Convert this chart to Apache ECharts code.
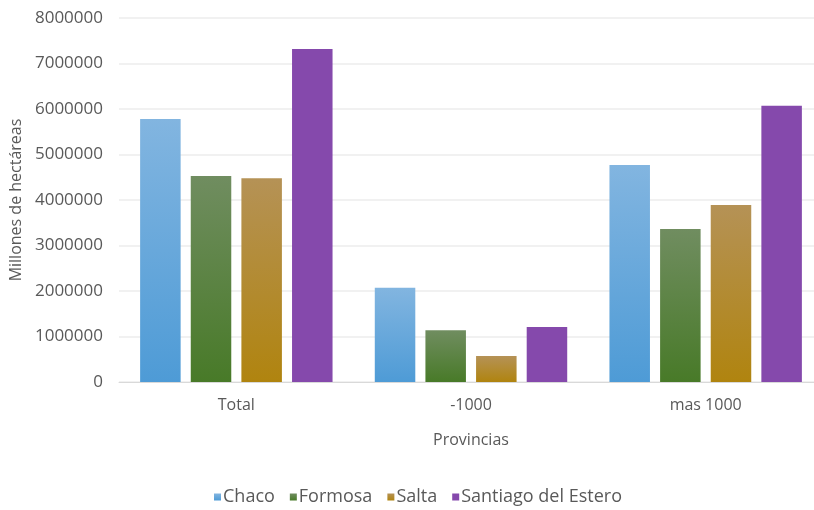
<!DOCTYPE html>
<html>
<head>
<meta charset="utf-8">
<script src="https://cdn.jsdelivr.net/npm/echarts@6/dist/echarts.min.js"></script>
<style>
html,body{margin:0;padding:0;background:#fff;}
#main{width:814px;height:510px;}
</style>
</head>
<body>
<div id="main"></div>
<script>
var categorias = ['Total', '-1000', 'mas 1000'];
var chaco = [5780000, 2070000, 4770000];
var formosa = [4530000, 1140000, 3360000];
var salta = [4480000, 570000, 3890000];
var santiago = [7320000, 1210000, 6070000];
var yTicks = [0, 1000000, 2000000, 3000000, 4000000, 5000000, 6000000, 7000000, 8000000];

// degradado vertical para cada serie
function grad(top, bottom){
    return new echarts.graphic.LinearGradient(0, 0, 0, 1, [
        {offset: 0, color: top},
        {offset: 1, color: bottom}
    ]);
}

var txt = '#595959';
var fuente = 'Open Sans';

var myChart = echarts.init(document.getElementById('main'));
var option = {
    animation: false,
    textStyle: {fontFamily: fuente},
    grid: {left: 119, right: -9, top: 18, bottom: 128, outerBoundsMode: 'none'},
    legend: {
        bottom: -1,
        left: 209,
        icon: 'rect',
        itemWidth: 7,
        itemHeight: 7,
        itemGap: 15,
        textStyle: {color: txt, fontSize: 18, fontFamily: fuente, padding: [0, 0, 0, -3]},
        data: ['Chaco', 'Formosa', 'Salta', 'Santiago del Estero']
    },
    xAxis: {
        type: 'category',
        data: categorias,
        name: 'Provincias',
        nameLocation: 'middle',
        nameGap: 50,
        nameTextStyle: {color: txt, fontSize: 16},
        axisLine: {lineStyle: {color: '#d9d9d9'}},
        axisTick: {show: false},
        axisLabel: {color: txt, fontSize: 16, margin: 15}
    },
    yAxis: {
        type: 'value',
        min: 0,
        max: yTicks[yTicks.length - 1],
        interval: 1000000,
        name: 'Millones de hectáreas',
        nameLocation: 'middle',
        nameGap: 86,
        nameTextStyle: {color: txt, fontSize: 16},
        axisLine: {show: false},
        axisTick: {show: false},
        axisLabel: {color: txt, fontSize: 17, margin: 16, formatter: function(v){ return String(v); }},
        splitLine: {lineStyle: {color: '#ececec', width: 1.5}}
    },
    series: [
        {name: 'Chaco', type: 'bar', data: chaco, barGap: '25%', barCategoryGap: '18%',
         itemStyle: {color: grad('#82b5e0', '#4e9bd6')}},
        {name: 'Formosa', type: 'bar', data: formosa,
         itemStyle: {color: grad('#708d60', '#487a28')}},
        {name: 'Salta', type: 'bar', data: salta,
         itemStyle: {color: grad('#b59256', '#b0840f')}},
        {name: 'Santiago del Estero', type: 'bar', data: santiago,
         itemStyle: {color: '#8549ac'}}
    ]
};
myChart.setOption(option);
</script>
</body>
</html>
